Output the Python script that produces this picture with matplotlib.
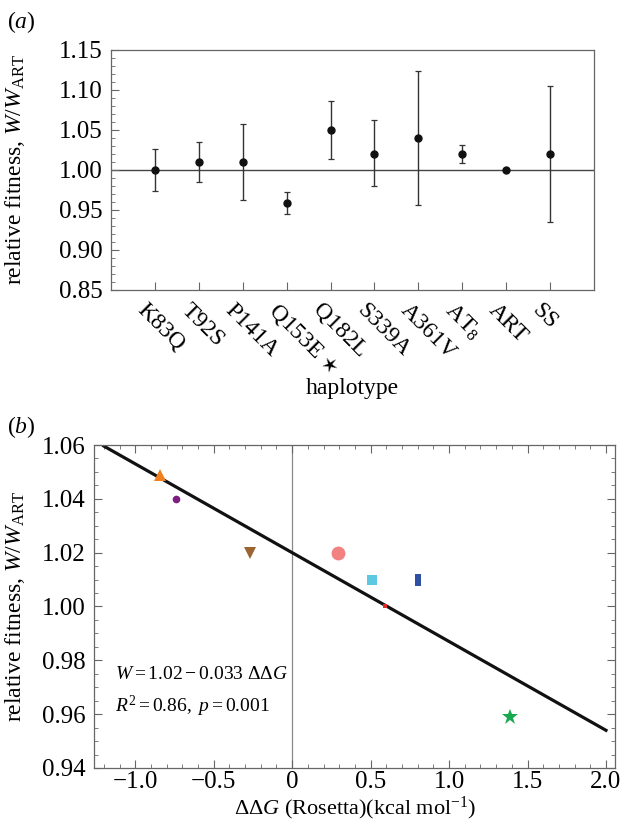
import matplotlib
matplotlib.use("Agg")
import matplotlib.pyplot as plt
import matplotlib.transforms as mtransforms
import numpy as np
from matplotlib.ticker import MultipleLocator, FixedLocator

plt.rcParams['font.family'] = ['Liberation Serif', 'DejaVu Sans']
plt.rcParams['mathtext.fontset'] = 'custom'
plt.rcParams['mathtext.rm'] = 'Liberation Serif'
plt.rcParams['mathtext.it'] = 'Liberation Serif:italic'
plt.rcParams['axes.unicode_minus'] = True

# panel (a): fitness per haplotype
haplotypes = ["K83Q", "T92S", "P141A", "Q153E $\\star$", "Q182L", "S339A", "A361V",
              "AT$_8$", "ART", "SS"]
fitness = [1.00, 1.01, 1.01, 0.959, 1.05, 1.02, 1.04, 1.02, 1.00, 1.02]
err_low = [0.974, 0.985, 0.963, 0.945, 1.014, 0.980, 0.956, 1.009, np.nan, 0.935]
err_high = [1.026, 1.035, 1.057, 0.973, 1.086, 1.063, 1.124, 1.031, np.nan, 1.105]

# panel (b): fitness vs Rosetta ddG
ddg = [-0.84, -0.74, -0.27, 0.29, 0.51, 0.80, 0.59, 1.39]
w_rel = [1.049, 1.04, 1.02, 1.02, 1.01, 1.01, 1.00, 0.959]
fit_a, fit_b = 1.02, -0.033
fit_x = [-1.2, 2.0]

pt_colors = ["#F08020", "#7E1E80", "#9C6430", "#F28282", "#5EC8E2", "#2F4FA2",
             "#E02828", "#18A850"]
tall_rect = [(-0.55, -1), (0.55, -1), (0.55, 1), (-0.55, 1), (-0.55, -1)]
pt_markers = ["^", "o", "v", "o", "s", tall_rect, "s", "*"]
pt_sizes = [9, 5.5, 9, 10, 6.5, 9, 3.5, 12]

spine_col = "#666666"
fig = plt.figure(figsize=(6.22, 8.25), dpi=100)

# ---- (a)
ax1 = fig.add_axes([0.1785, 0.6485, 0.7765, 0.2909])
x = np.arange(1, len(haplotypes) + 1)
lo = np.array(err_low)
hi = np.array(err_high)
f = np.array(fitness)
has = ~np.isnan(lo)
ax1.axhline(1.0, color="#444444", lw=1.0, zorder=1)
ax1.errorbar(x[has], f[has], yerr=[f[has] - lo[has], hi[has] - f[has]], fmt="none",
             ecolor="#333333", elinewidth=1.0, capsize=2.5, capthick=0.9, zorder=2)
ax1.plot(x, f, "o", color="#111111", markersize=5, zorder=3)
ax1.set_xlim(0, 11)
ax1.yaxis.set_minor_locator(MultipleLocator(0.01))
ax1.set_yticks([0.85, 0.90, 0.95, 1.00, 1.05, 1.10, 1.15])
ax1.set_yticklabels(["0.85", "0.90", "0.95", "1.00", "1.05", "1.10", "1.15"])
ax1.set_ylim(0.85, 1.15)
ax1.xaxis.set_major_locator(FixedLocator(x))
ax1.set_xticklabels(haplotypes, rotation=-45, ha="left", va="top",
                    rotation_mode="anchor")
ax1.tick_params(axis="y", which="major", direction="in", length=6, width=0.8,
                color=spine_col, labelsize=18, pad=6)
ax1.tick_params(axis="y", which="minor", direction="in", length=3, width=0.6,
                color=spine_col)
ax1.tick_params(axis="x", direction="in", length=6, width=0.8, color=spine_col,
                labelsize=17, pad=7)
shift = mtransforms.ScaledTranslation(-7 / 100, 0, fig.dpi_scale_trans)
for lbl in ax1.get_xticklabels():
    lbl.set_transform(lbl.get_transform() + shift)
for s in ax1.spines.values():
    s.set_color(spine_col)
    s.set_linewidth(0.9)
ax1.set_ylabel("relative fitness, $W/W_{\\mathrm{ART}}$", fontsize=17)
ax1.yaxis.set_label_coords(-0.174, 0.5)
ax1.set_xlabel("haplotype", fontsize=17, va="center")
ax1.xaxis.set_label_coords(0.5, -0.41)
fig.text(0.012, 0.973, "($a$)", fontsize=17, va="center", ha="left")

# ---- (b)
ax2 = fig.add_axes([0.1518, 0.0691, 0.8376, 0.3915])
ax2.axvline(0, color="#888888", lw=0.9, zorder=1)
ax2.plot(fit_x, [fit_a + fit_b * v for v in fit_x], color="#111111", lw=2.3, zorder=2)
for xi, yi, c, m, ms in zip(ddg, w_rel, pt_colors, pt_markers, pt_sizes):
    ax2.plot([xi], [yi], marker=m, color=c, markersize=ms, linestyle="none", zorder=3,
             markeredgewidth=0)
ax2.set_xlim(-1.26, 2.06)
ax2.xaxis.set_minor_locator(MultipleLocator(0.1))
ax2.yaxis.set_minor_locator(MultipleLocator(0.005))
ax2.set_xticks([-1.0, -0.5, 0, 0.5, 1.0, 1.5, 2.0])
ax2.set_xticklabels(["\u22121.0", "\u22120.5", "0", "0.5", "1.0", "1.5", "2.0"])
ax2.set_yticks([0.94, 0.96, 0.98, 1.00, 1.02, 1.04, 1.06])
ax2.set_yticklabels(["0.94", "0.96", "0.98", "1.00", "1.02", "1.04", "1.06"])
ax2.set_ylim(0.94, 1.06)
ax2.tick_params(which="both", direction="in", top=True, right=True, color=spine_col)
ax2.tick_params(which="major", length=6, width=0.8, labelsize=18)
ax2.tick_params(axis="y", which="major", pad=6)
ax2.tick_params(axis="x", which="major", pad=2)
ax2.tick_params(which="minor", length=3, width=0.6)
for s in ax2.spines.values():
    s.set_color(spine_col)
    s.set_linewidth(0.9)
ax2.set_ylabel("relative fitness, $W/W_{\\mathrm{ART}}$", fontsize=17)
ax2.yaxis.set_label_coords(-0.129, 0.5)
ax2.set_xlabel("$\\Delta\\Delta G$ (Rosetta)(kcal mol$^{-1}$)", fontsize=16, va="bottom")
ax2.xaxis.set_label_coords(0.5, -0.168)
ax2.text(-1.13, 0.9746, "$W = 1.02 - 0.033\\ \\Delta\\Delta G$", fontsize=14, va="center")
ax2.text(-1.13, 0.963, "$R^2 = 0.86,\\ p = 0.001$", fontsize=14, va="center")
fig.text(0.012, 0.482, "($b$)", fontsize=17, va="center", ha="left")

fig.savefig("out.png", dpi=100)
